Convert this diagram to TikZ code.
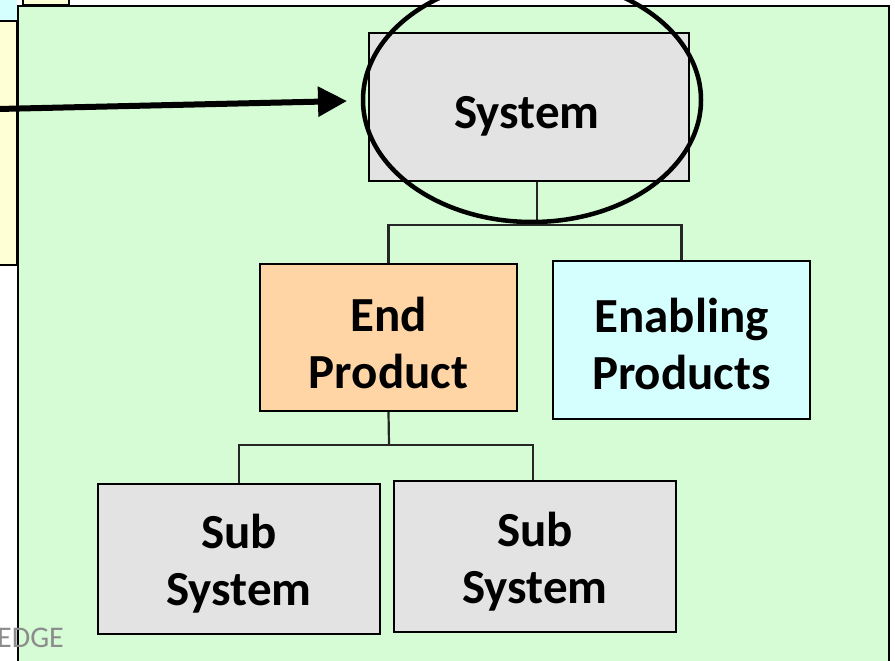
\documentclass[tikz,border=0pt]{standalone}
\usepackage{fontspec}
\setmainfont{Carlito}
\usetikzlibrary{arrows.meta,shapes.geometric}
\definecolor{panelgreen}{RGB}{213,252,212}
\definecolor{peach}{RGB}{255,213,166}
\definecolor{lcyan}{RGB}{213,255,255}
\definecolor{lgray}{RGB}{227,227,227}
\definecolor{lyellow}{RGB}{255,255,213}
\definecolor{edgegray}{RGB}{140,140,140}
\begin{document}
\begin{tikzpicture}[x=1pt,y=-1pt,
  box/.style={draw=black,line width=2pt,inner sep=0pt},
  txt/.style={inner sep=0pt,align=center,
    font=\bfseries\fontsize{49}{57}\selectfont},
  conn/.style={draw=black!85,line width=2.2pt}]
\useasboundingbox (0,0) rectangle (895,661);
\fill[white] (0,0) rectangle (895,661);
% side panels
\fill[lcyan] (-5,-5) rectangle (17,20);
\draw[fill=lyellow,line width=1.5pt] (-5,21) rectangle (17,265);
\draw[fill=lyellow,line width=1.5pt] (23,-5) rectangle (69,5);
% main green panel
\draw[fill=panelgreen,line width=2pt] (18,6) rectangle (889,675);
\node[anchor=base west,inner sep=0pt,text=edgegray,font=\fontsize{30}{36}\selectfont] (edge) at (-3,647) {EDGE};
% boxes
\node[box,fill=lgray,minimum width=320pt,minimum height=148pt] (sys) at (529,107) {};
\node[box,fill=peach,minimum width=257pt,minimum height=147pt] (endp) at (388.5,337.5) {};
\node[box,fill=lcyan,minimum width=257pt,minimum height=158pt] (enab) at (681.5,340) {};
\node[box,fill=lgray,minimum width=282pt,minimum height=150pt] (sub1) at (239,559) {};
\node[box,fill=lgray,minimum width=282pt,minimum height=151pt] (sub2) at (535,556.5) {};
% texts
\node[txt] (tsys) at ([xshift=-2pt,yshift=-9pt]sys.center) {System};
\node[txt] (tendp) at ([yshift=-5pt]endp.center) {End\\Product};
\node[txt] (tenab) at ([yshift=-4pt]enab.center) {Enabling\\Products};
\node[txt] (tsub1) at ([yshift=-5pt]sub1.center) {Sub\\System};
\node[txt] (tsub2) at ([yshift=-5pt]sub2.center) {Sub\\System};
% connectors
\coordinate (j1) at (537,225);
\coordinate (j2) at (389,445);
\draw[conn] ([xshift=8pt]sys.south) -- (j1);
\draw[conn] (endp.north) |- (j1) -| (enab.north);
\draw[conn] (endp.south) -- (j2);
\draw[conn] (sub1.north) |- (j2) -| ([xshift=-2pt]sub2.north);
% highlight ellipse
\node[ellipse,draw=black,line width=4.5pt,minimum width=338pt,minimum height=244pt,inner sep=0pt] (ring) at (532,100) {};
% arrow
\coordinate (a0) at (-2,109);
\coordinate (atip) at (347,101);
\draw[line width=6pt,-{Triangle[length=29pt,width=29pt]}] (a0) -- (atip);
\end{tikzpicture}
\end{document}
